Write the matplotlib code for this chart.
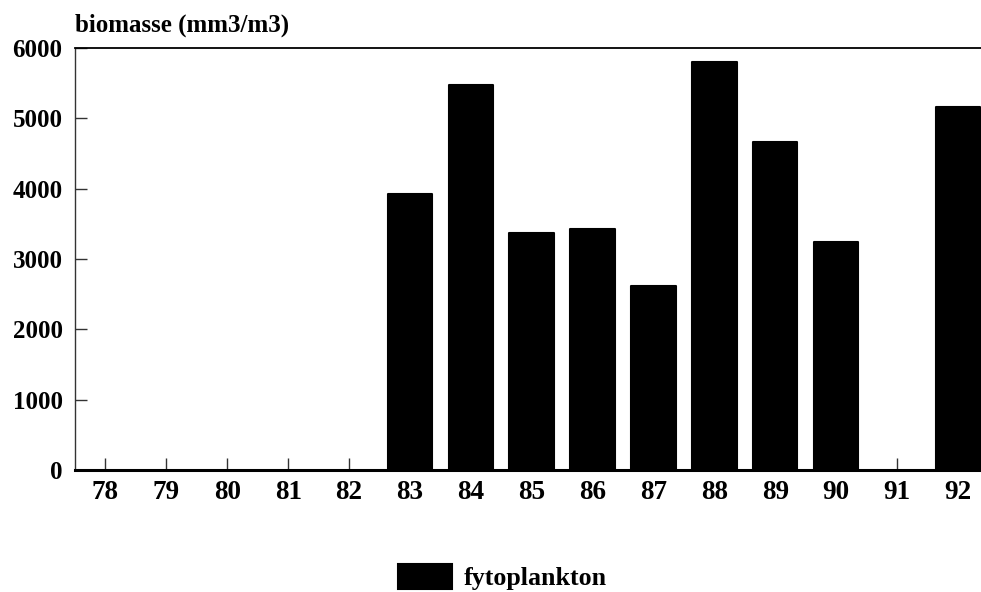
import matplotlib
matplotlib.use('Agg')
import matplotlib.pyplot as plt
import numpy as np

years = [78, 79, 80, 81, 82, 83, 84, 85, 86, 87, 88, 89, 90, 91, 92]
biomasse = [0, 0, 0, 0, 0, 3920, 5480, 3370, 3430, 2615, 5800, 4665, 3240, 0, 5165]
ylabel = 'biomasse (mm3/m3)'
series_name = 'fytoplankton'

plt.rcParams['font.family'] = ['Liberation Serif', 'DejaVu Serif']
plt.rcParams['font.weight'] = 'bold'

fig = plt.figure(figsize=(9.81, 5.92), dpi=100)
ax = fig.add_axes([0.0765, 0.206, 0.9235, 0.713])

# only draw the non-empty years as bars
x = np.array(years)
y = np.array(biomasse)
mask = y > 0
ax.bar(x[mask], y[mask], width=0.73, color='black', edgecolor='black',
       linewidth=1.5, joinstyle='round', label=series_name, zorder=3)

ax.set_xlim(77.5, 92.38)
ax.set_ylim(0, 6000)
ax.set_xticks(years)
ax.set_xticklabels([str(v) for v in years])
ax.set_yticks(range(0, 6001, 1000))

ax.tick_params(axis='both', direction='in', length=8.4, width=1,
               labelsize=18, color='#333333')
ax.tick_params(axis='x', pad=7, labelsize=19.5)
ax.tick_params(axis='y', pad=9)
for lab in ax.get_xticklabels() + ax.get_yticklabels():
    lab.set_fontweight('bold')

ax.spines['right'].set_visible(False)
ax.spines['top'].set_linewidth(1.3)
ax.spines['left'].set_linewidth(1.0)
ax.spines['left'].set_color('#333333')
ax.spines['bottom'].set_linewidth(2.2)

fig.text(0.0765, 0.938, ylabel, fontsize=18, fontweight='bold',
         ha='left', va='bottom')

leg = fig.legend(loc='center', bbox_to_anchor=(0.512, 0.025), frameon=False,
                 fontsize=18.7, handlelength=2.1, handleheight=1.1,
                 handletextpad=0.45)
for t in leg.get_texts():
    t.set_fontweight('bold')

fig.savefig('out.png', dpi=100)
